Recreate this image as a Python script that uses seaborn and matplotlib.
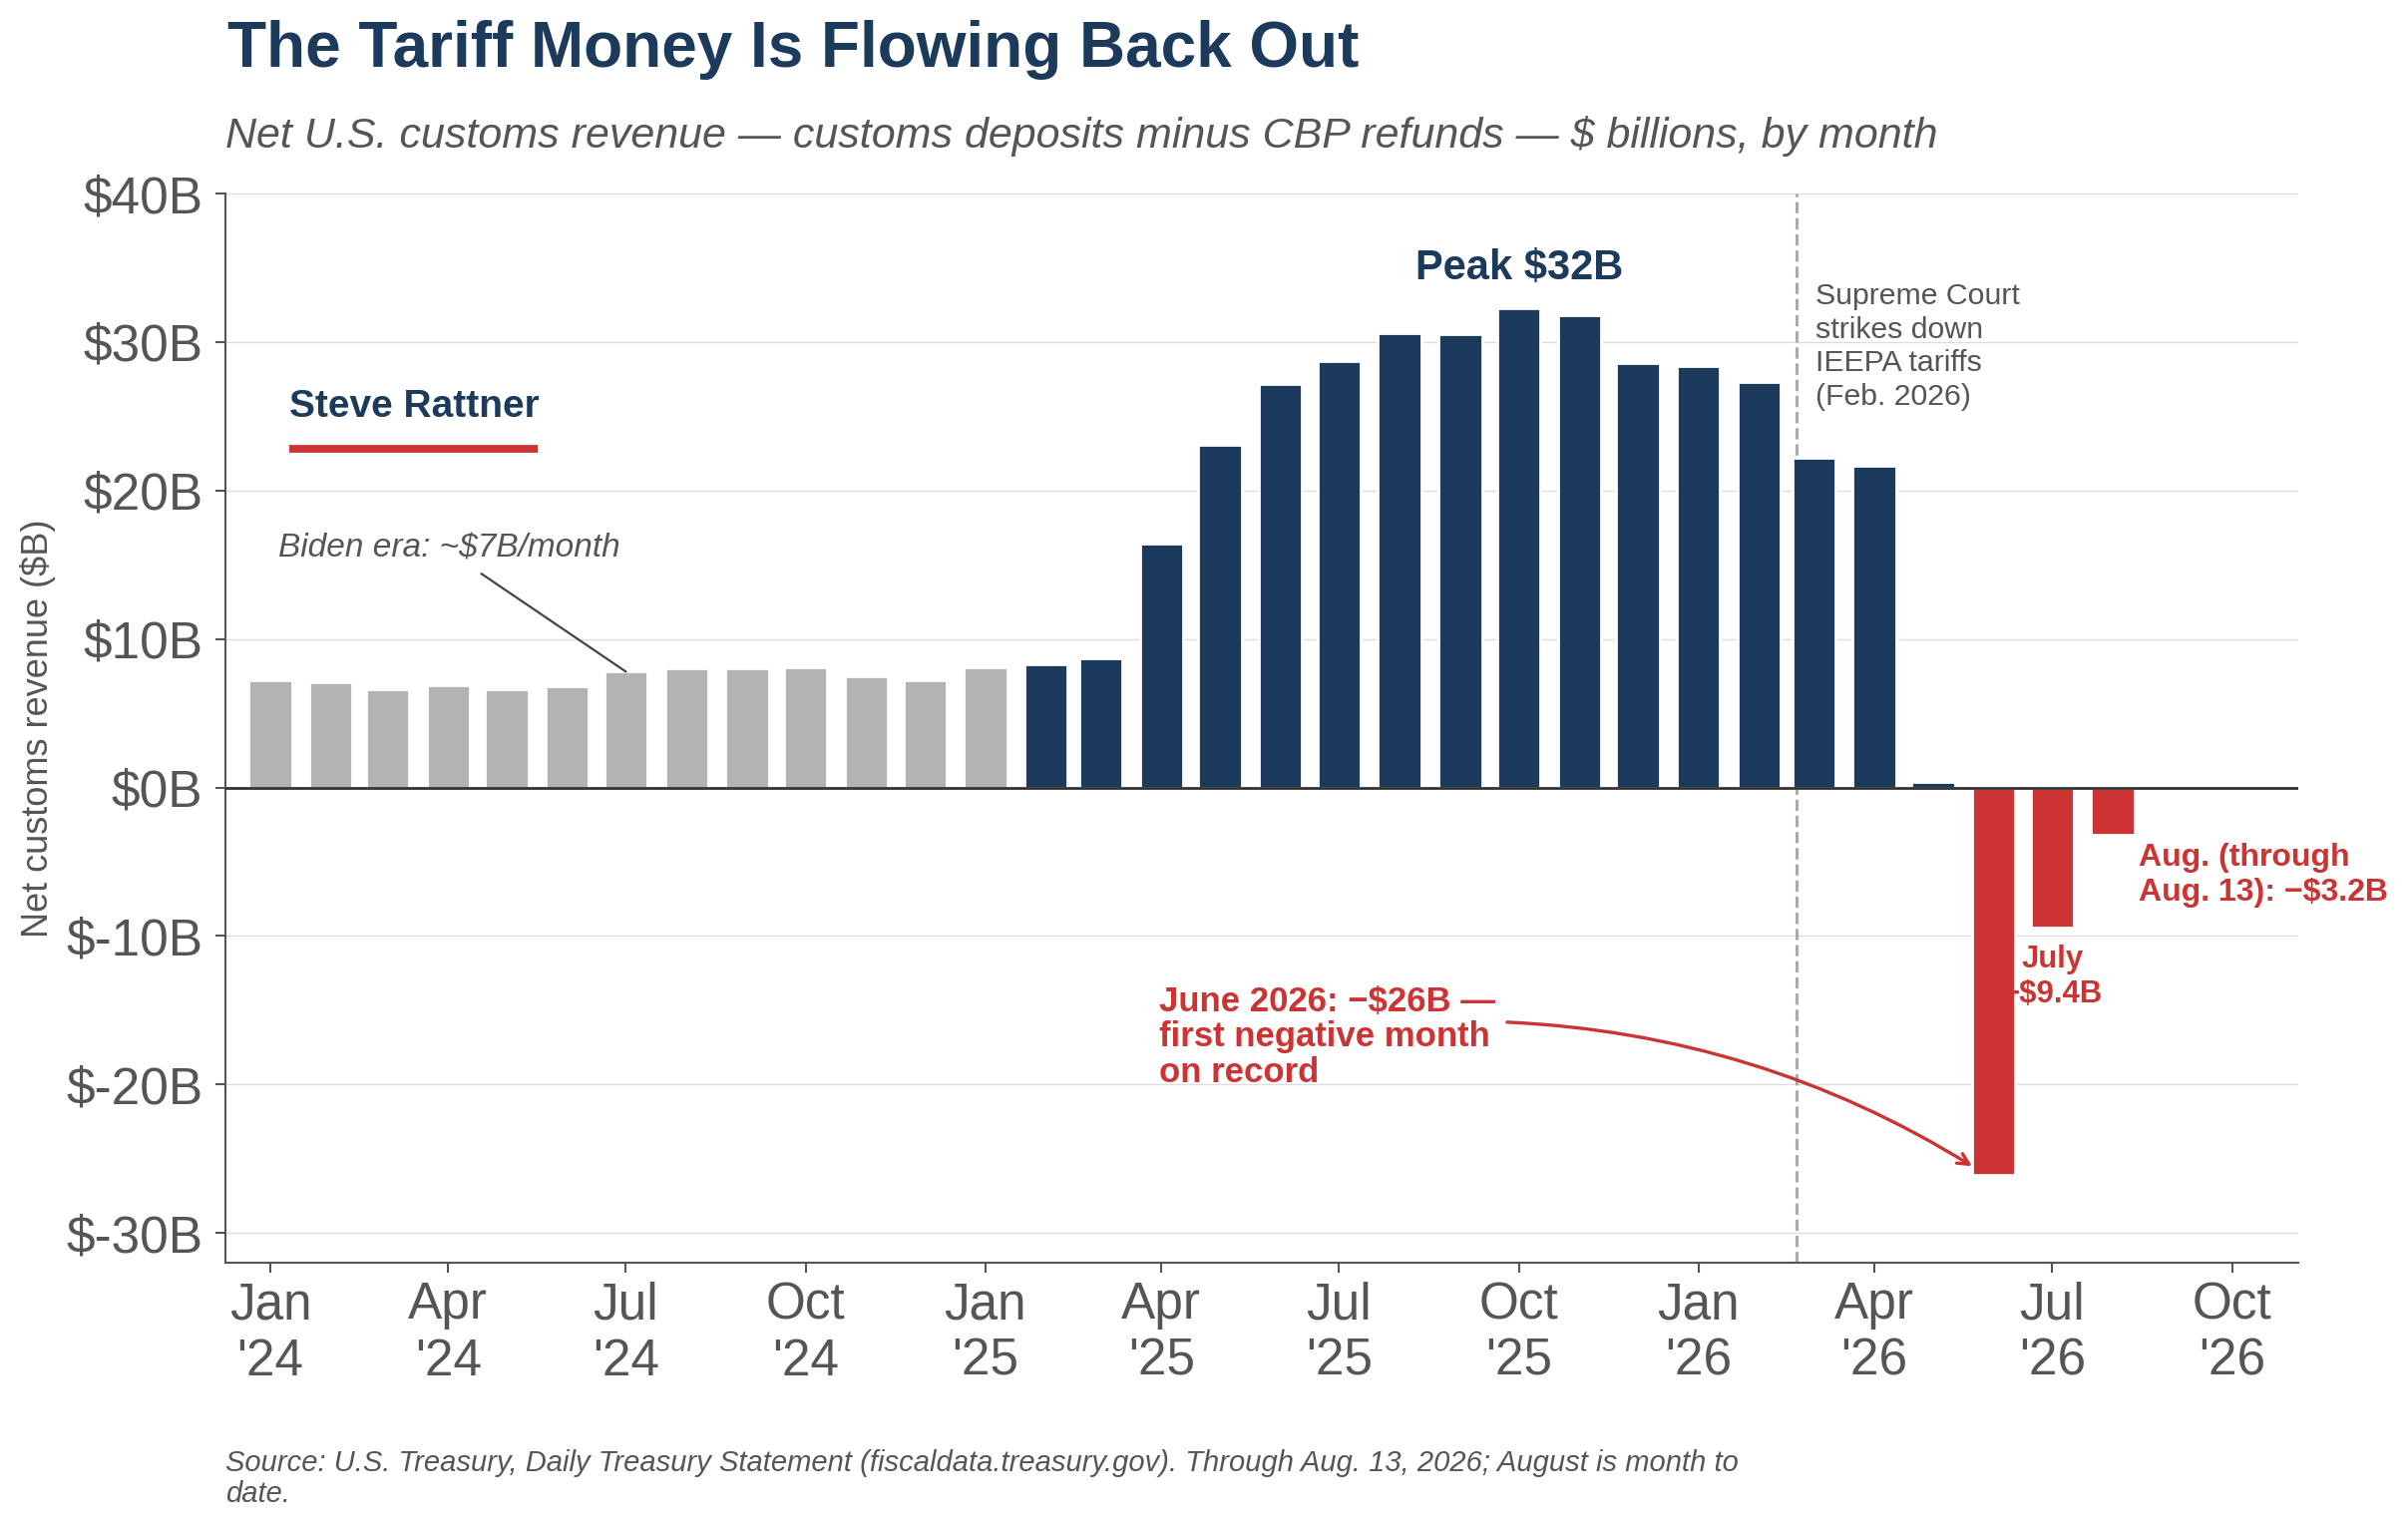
import pandas as pd
import numpy as np
import matplotlib
matplotlib.use('Agg')
import matplotlib.pyplot as plt
import matplotlib.dates as mdates
import seaborn as sns

# datos: ingresos netos de aduanas por mes ($B)
months = pd.date_range('2024-01-01', periods=32, freq='MS')
revenue = [7.2, 7.1, 6.6, 6.9, 6.6, 6.85, 7.85, 8.0, 8.0, 8.1, 7.5, 7.25,
           8.1, 8.3, 8.7, 16.4, 23.1, 27.2, 28.7, 30.6, 30.5, 32.3, 31.8, 28.6,
           28.4, 27.3, 22.2, 21.7, 0.35, -26.1, -9.4, -3.2]
era = ['biden'] * 13 + ['trump'] * 16 + ['refund'] * 3

tick_months = pd.date_range('2024-01-01', '2026-10-01', freq='QS')
tick_labels = [f"{d:%b}\n'{d:%y}" for d in tick_months]
y_ticks = [-30, -20, -10, 0, 10, 20, 30, 40]

navy = '#1b3a5c'
red = '#cc3333'
grey_txt = '#555555'
palette = {'biden': '#b3b3b3', 'trump': navy, 'refund': red}

df = pd.DataFrame({'x': mdates.date2num(months), 'revenue': revenue, 'era': era})

sns.set_style('ticks')
plt.rcParams['font.family'] = ['Liberation Sans', 'DejaVu Sans']

fig = plt.figure(figsize=(12.07, 7.67), dpi=200)
ax = fig.add_axes([0.0936, 0.1747, 0.9545 - 0.0936, 0.8735 - 0.1747])

sns.barplot(data=df, x='x', y='revenue', hue='era', palette=palette, native_scale=True,
            width=0.79, saturation=1, dodge=False, legend=False, ax=ax, zorder=2)

d2n = lambda s: mdates.date2num(pd.Timestamp(s))

# ejes
ax.set_xlim(d2n('2023-12-09'), d2n('2026-11-04'))
ax.set_ylim(-32, 40)
ax.set_xticks(mdates.date2num(tick_months))
ax.set_xticklabels(tick_labels)
ax.set_yticks(y_ticks)
ax.set_yticklabels([f'${v}B' for v in y_ticks])
ax.set_xlabel('')
ax.set_ylabel('Net customs revenue ($B)', fontsize=13, color=grey_txt)
ax.yaxis.set_label_coords(-0.082, 0.5)

for s in ['top', 'right']:
    ax.spines[s].set_visible(False)
for s in ['left', 'bottom']:
    ax.spines[s].set_color(grey_txt)
    ax.spines[s].set_linewidth(0.75)
ax.tick_params(axis='both', colors=grey_txt, labelsize=18.5, length=3.6, width=0.75, pad=4.5)
ax.tick_params(axis='x', pad=3)

ax.set_axisbelow(True)
ax.yaxis.grid(True, color='#dddddd', lw=0.5)
ax.xaxis.grid(False)

ax.axhline(0, color='#333333', lw=1.0, zorder=3)
ax.axvline(d2n('2026-02-20'), color='#aaaaaa', ls='--', lw=1.1, zorder=1)

# anotaciones
ax.text(d2n('2025-10-01'), 34.2, 'Peak $32B', ha='center', va='baseline',
        fontsize=15, weight='bold', color=navy)

ax.text(d2n('2026-03-02'), 34.0, 'Supreme Court\nstrikes down\nIEEPA tariffs\n(Feb. 2026)',
        ha='left', va='top', fontsize=10.9, color=grey_txt, linespacing=1.25)

ax.text(d2n('2024-01-05'), 15.5, 'Biden era: ~$7B/month', ha='left', va='baseline',
        fontsize=12, style='italic', color=grey_txt)
ax.annotate('', xy=(d2n('2024-07-01'), 7.8), xytext=(d2n('2024-04-18'), 14.4),
            arrowprops=dict(arrowstyle='-', color='#444444', lw=0.8, shrinkA=0, shrinkB=0))

ax.text(d2n('2025-03-31'), -13.35, 'June 2026: \u2212$26B \u2014\nfirst negative month\non record',
        ha='left', va='top', fontsize=12.5, weight='bold', color=red, linespacing=1.08)
ax.annotate('', xy=(d2n('2026-05-21'), -25.5), xytext=(d2n('2025-09-25'), -15.8),
            arrowprops=dict(arrowstyle='->', color=red, lw=1.2, shrinkA=0, shrinkB=0,
                            connectionstyle='arc3,rad=-0.13'))

ax.text(d2n('2026-07-01'), -10.6, 'July\n\u2212$9.4B', ha='center', va='top',
        fontsize=11.2, weight='bold', color=red)
ax.text(d2n('2026-08-14'), -3.75, 'Aug. (through\nAug. 13): \u2212$3.2B', ha='left', va='top',
        fontsize=11.5, weight='bold', color=red)

ax.text(0.0308, 0.791, 'Steve Rattner', transform=ax.transAxes, fontsize=14,
        weight='bold', color=navy, va='baseline')
ax.plot([0.0308, 0.1506], [0.761, 0.761], transform=ax.transAxes, color=red, lw=2.8,
        solid_capstyle='butt', clip_on=False)

# títulos y fuente
fig.text(0.0944, 0.9563, 'The Tariff Money Is Flowing Back Out', fontsize=23,
         weight='bold', color=navy, va='baseline')
fig.text(0.0936, 0.9035, 'Net U.S. customs revenue \u2014 customs deposits minus CBP refunds \u2014 $ billions, by month',
         fontsize=15.5, style='italic', color=grey_txt, va='baseline')
fig.text(0.0936, 0.0525, 'Source: U.S. Treasury, Daily Treasury Statement (fiscaldata.treasury.gov). '
         'Through Aug. 13, 2026; August is month to\ndate.',
         fontsize=10.5, style='italic', color=grey_txt, va='top', linespacing=1.1)

fig.savefig('out.png', dpi=200)
